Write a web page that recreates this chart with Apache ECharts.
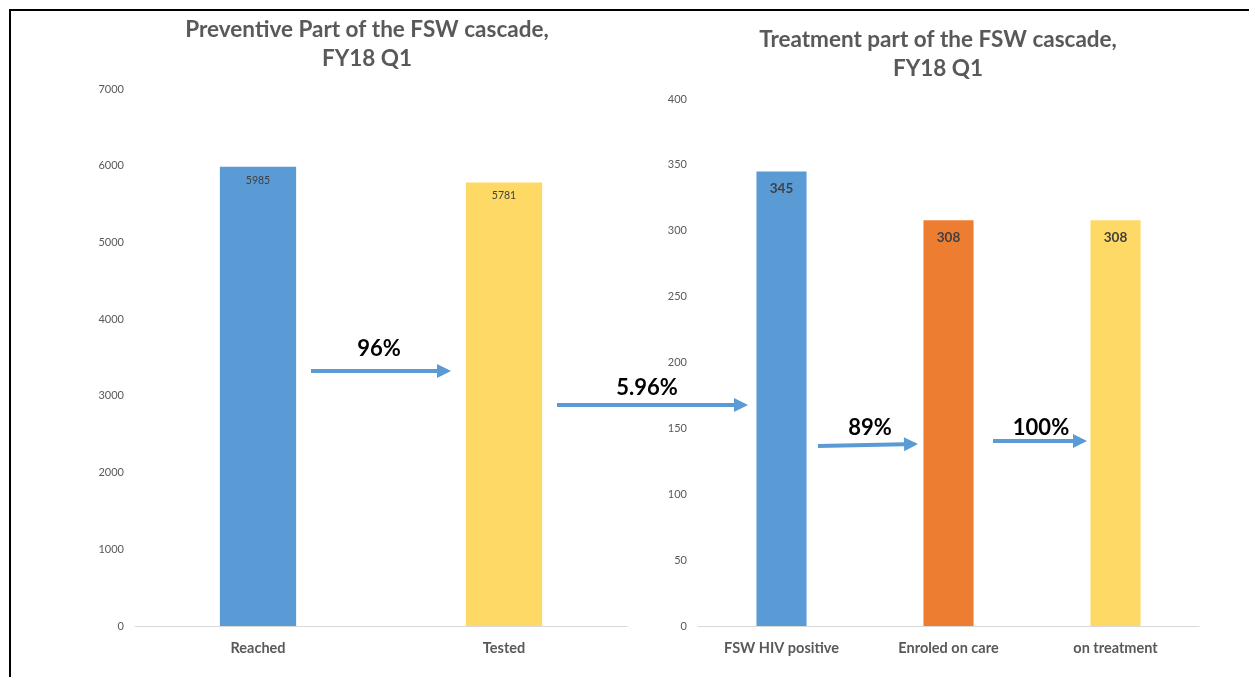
<!DOCTYPE html>
<html>
<head>
<meta charset="utf-8">
<script src="https://cdn.jsdelivr.net/npm/echarts@6/dist/echarts.min.js"></script>
<style>
  html, body { margin: 0; padding: 0; background: #fff; }
  #main { width: 1249px; height: 677px; }
</style>
</head>
<body>
<div id="main"></div>
<script>
// data
var prevCats = ['Reached', 'Tested'];
var prevVals = [5985, 5781];
var treatCats = ['FSW HIV positive', 'Enroled on care', 'on treatment'];
var treatVals = [345, 308, 308];
var stepLabels = ['96%', '5.96%', '89%', '100%'];

var prevColors = ['#5B9BD5', '#FFD966'];
var treatColors = ['#5B9BD5', '#ED7D31', '#FFD966'];
var FONT = 'Lato';
var GREY = '#595959';
var ARROW = '#5B9BD5';

// arrow helper (annotation only)
function arrow(x1, y1, x2, y2, text, tx, ty) {
    var ang = Math.atan2(y2 - y1, x2 - x1);
    var hl = 14, hw = 7;
    var bx = x2 - hl * Math.cos(ang), by = y2 - hl * Math.sin(ang);
    var px = -Math.sin(ang), py = Math.cos(ang);
    return [{
        type: 'line',
        shape: { x1: x1, y1: y1, x2: bx, y2: by },
        style: { stroke: ARROW, lineWidth: 4 }
    }, {
        type: 'polygon',
        shape: { points: [[x2, y2], [bx + px * hw, by + py * hw], [bx - px * hw, by - py * hw]] },
        style: { fill: ARROW }
    }, {
        type: 'text',
        x: tx, y: ty,
        style: { text: text, font: 'bold 22px ' + FONT, fill: '#000', align: 'center', verticalAlign: 'middle' }
    }];
}

var graphics = [
    { type: 'line', shape: { x1: 9, y1: 10, x2: 1249, y2: 10 }, style: { stroke: '#000', lineWidth: 2 } },
    { type: 'line', shape: { x1: 10, y1: 9, x2: 10, y2: 677 }, style: { stroke: '#000', lineWidth: 2 } }
];
graphics = graphics
    .concat(arrow(311, 371, 451, 371, stepLabels[0], 379, 349))
    .concat(arrow(557, 405, 748, 405, stepLabels[1], 647, 388))
    .concat(arrow(818, 446, 918, 444, stepLabels[2], 870, 428))
    .concat(arrow(993, 441, 1087, 441, stepLabels[3], 1041, 428));

var chart = echarts.init(document.getElementById('main'));

var yLabel = { color: GREY, fontSize: 11, margin: 11, formatter: function (v) { return String(v); } };
var xLabel = { color: GREY, fontSize: 14.5, fontWeight: 'bold', margin: 15 };

var option = {
    animation: false,
    textStyle: { fontFamily: FONT },
    title: [{
        text: 'Preventive Part of the FSW cascade,\nFY18 Q1',
        left: 362, top: 10, textAlign: 'center',
        textStyle: { fontFamily: FONT, fontSize: 22.5, fontWeight: 'bold', color: GREY, lineHeight: 29 }
    }, {
        text: 'Treatment part of the FSW cascade,\nFY18 Q1',
        left: 933, top: 20, textAlign: 'center',
        textStyle: { fontFamily: FONT, fontSize: 22.5, fontWeight: 'bold', color: GREY, lineHeight: 29 }
    }],
    grid: [
        { left: 135, right: 622, top: 89, bottom: 51 },
        { left: 698, right: 50, top: 99, bottom: 51 }
    ],
    xAxis: [{
        type: 'category', gridIndex: 0, data: prevCats,
        axisLine: { lineStyle: { color: '#d9d9d9', width: 1 } },
        axisTick: { show: false },
        axisLabel: xLabel
    }, {
        type: 'category', gridIndex: 1, data: treatCats,
        axisLine: { lineStyle: { color: '#d9d9d9', width: 1 } },
        axisTick: { show: false },
        axisLabel: xLabel
    }],
    yAxis: [{
        type: 'value', gridIndex: 0, min: 0, max: 7000, interval: 1000,
        axisLine: { show: false }, axisTick: { show: false }, splitLine: { show: false },
        axisLabel: yLabel
    }, {
        type: 'value', gridIndex: 1, min: 0, max: 400, interval: 50,
        axisLine: { show: false }, axisTick: { show: false }, splitLine: { show: false },
        axisLabel: yLabel
    }],
    series: [{
        type: 'bar', xAxisIndex: 0, yAxisIndex: 0,
        barWidth: '31%',
        data: prevVals.map(function (v, i) {
            return { value: v, itemStyle: { color: prevColors[i] } };
        }),
        label: { show: true, position: 'insideTop', distance: 8, color: '#404040', fontSize: 10.5 }
    }, {
        type: 'bar', xAxisIndex: 1, yAxisIndex: 1,
        barWidth: '30%',
        data: treatVals.map(function (v, i) {
            return { value: v, itemStyle: { color: treatColors[i] } };
        }),
        label: { show: true, position: 'insideTop', distance: 10, color: '#404040', fontSize: 13.5, fontWeight: 'bold' }
    }],
    graphic: graphics
};
chart.setOption(option);
</script>
</body>
</html>
